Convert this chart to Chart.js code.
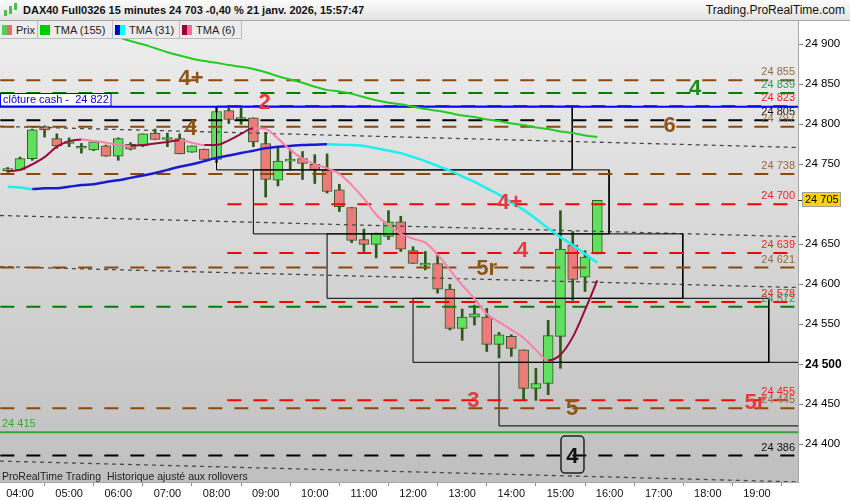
<!DOCTYPE html>
<html>
<head>
<meta charset="utf-8">
<script src="https://cdn.jsdelivr.net/npm/chart.js@4.4.1/dist/chart.umd.min.js"></script>
<style>
  html, body { margin: 0; padding: 0; background: #fff; }
  #wrap { position: relative; width: 850px; height: 500px; overflow: hidden; font-family: "Liberation Sans", Arial, sans-serif; }
  #chart { position: absolute; left: 0; top: 0; }
  #head { position: absolute; left: 0; top: 0; width: 850px; height: 21px; box-sizing: border-box; background: linear-gradient(#fbfbfb, #e3e3e3); border-bottom: 1px solid #a9a9a9; }
  #icon { position: absolute; left: 4px; top: 3px; width: 14px; height: 14px; }
  #icon i { position: absolute; width: 3px; }
  #title { position: absolute; left: 23px; top: 0; line-height: 21px; font-size: 11px; font-weight: bold; color: #111; white-space: nowrap; }
  #site { position: absolute; right: 5px; top: 0; line-height: 21px; font-size: 12px; color: #111; }
  #legend { position: absolute; left: 0; top: 21px; display: flex; }
  .cell { box-sizing: border-box; height: 18px; border-right: 1px solid #bcbcbc; border-bottom: 1px solid #bcbcbc; background: #ececec; display: flex; align-items: center; padding-left: 2px; font-size: 11px; color: #222; white-space: nowrap; }
  .ic { display: inline-flex; width: 10px; height: 10px; margin-right: 4px; }
  .ic i { flex: 1; }
</style>
</head>
<body>
<div id="wrap">
  <canvas id="chart" width="850" height="500"></canvas>
  <div id="head">
    <div id="icon">
      <i style="left:0;top:7px;height:6px;background:#4cbf4c"></i>
      <i style="left:5px;top:3px;height:8px;background:#4cbf4c"></i>
      <i style="left:10px;top:0;height:7px;background:#4cbf4c"></i>
    </div>
    <div id="title">DAX40 Full0326 15 minutes 24 703 -0,40 % 21 janv. 2026, 15:57:47</div>
    <div id="site">Trading.ProRealTime.com</div>
  </div>
  <div id="legend">
    <div class="cell" style="width:38px"><span class="ic"><i style="background:#52d052"></i><i style="background:#e46c6c"></i></span>Prix</div>
    <div class="cell" style="width:75px"><span class="ic"><i style="background:#00cc00"></i></span>TMA (155)</div>
    <div class="cell" style="width:67px"><span class="ic"><i style="background:#0000cc"></i><i style="background:#00ffff"></i></span>TMA (31)</div>
    <div class="cell" style="width:62px"><span class="ic"><i style="background:#990033"></i><i style="background:#ff6699"></i></span>TMA (6)</div>
  </div>
</div>
<script>
// --- data ---
const CANDLE_TIMES = ["03:45","04:00","04:15","04:30","04:45","05:00","05:15","05:30","05:45","06:00","06:15","06:30","06:45",
  "07:00","07:15","07:30","07:45","08:00","08:15","08:30","08:45","09:00","09:15","09:30","09:45","10:00","10:15","10:30",
  "10:45","11:00","11:15","11:30","11:45","12:00","12:15","12:30","12:45","13:00","13:15","13:30","13:45","14:00","14:15",
  "14:30","14:45","15:00","15:15","15:30","15:45"];
const OPEN  = [24742,24743,24757,24797,24782,24776,24770,24768,24773,24760,24775,24773,24789,24781,24782,24765,24769,24756,24817,24806,24808,24776,24730,24754,24757,24750,24743,24718,24696,24656,24650,24660,24678,24642,24624,24626,24594,24545,24559,24559,24525,24535,24518,24470,24476,24535,24649,24609,24638];
const HIGH  = [24746,24759,24794,24798,24788,24783,24776,24778,24774,24783,24777,24788,24794,24789,24788,24773,24769,24822,24820,24820,24808,24790,24770,24769,24766,24762,24763,24725,24696,24669,24664,24692,24685,24647,24641,24637,24600,24569,24574,24570,24540,24537,24518,24495,24555,24692,24666,24642,24705];
const LOW   = [24740,24742,24755,24784,24770,24772,24764,24767,24760,24755,24768,24772,24781,24772,24763,24765,24756,24752,24801,24800,24772,24709,24723,24743,24731,24726,24714,24691,24652,24641,24633,24656,24641,24626,24618,24589,24543,24530,24549,24516,24508,24510,24455,24455,24462,24495,24580,24591,24638];
const CLOSE = [24744,24757,24793,24793,24773,24777,24771,24778,24760,24782,24769,24788,24781,24783,24763,24773,24756,24816,24806,24807,24778,24731,24754,24755,24751,24743,24716,24697,24655,24650,24664,24678,24644,24626,24625,24594,24545,24559,24563,24525,24537,24520,24470,24476,24536,24644,24606,24634,24705];

const TMA155 = [null,null,null,null,null,null,null,null,24914,24909,24904,24900,24895,24890,24886,24882,24879,24877,24874,24872,24869,24865,24860,24856,24852,24847,24843,24841,24838,24834,24830,24827,24825,24822,24819,24817,24814,24811,24809,24806,24804,24801,24799,24796,24794,24791,24789,24786,24784];
const TMA31  = [24722,24721,24719,24720,24720,24722,24724,24725,24728,24730,24733,24736,24739,24743,24747,24750,24754,24758,24761,24764,24767,24770,24772,24773,24774,24774.5,24775,24774.5,24774,24773,24770,24767,24764,24759,24754,24748,24742,24735,24728,24720,24712,24702,24693,24682,24670,24659,24649,24638,24627];
const TMA6   = [24741,24743,24750,24759,24772,24779,24781,24779,24777,24774,24773,24774,24776,24778,24780,24777,24774,24774,24780,24788,24795,24794,24782,24768,24757,24750,24745,24738,24724,24707,24687,24674,24663,24657,24652,24637,24618,24599,24582,24563,24553,24543,24533,24518,24505,24512,24534,24568,24605];

// horizontal levels (dashed), where each starts in hours, and their colour family
const LEVELS      = [24855, 24839, 24823, 24805, 24797, 24738, 24700, 24639, 24621, 24578, 24572, 24455, 24445, 24386];
const LEVEL_KIND  = ["brown","green","red","black","brown","brown","red","red","brown","red","green","red","brown","black"];
const LEVEL_START = [3.6, 3.6, 8.22, 3.6, 3.6, 3.6, 8.22, 8.22, 3.6, 8.22, 3.6, 8.22, 3.6, 3.6];
const LEVEL_END = 19.78;
const CASH_CLOSE = 24822;
const SUPPORT = 24415;

// sloping channel lines (price at left edge / right edge)
const TREND_LEFT  = [24797.4, 24686, 24622, 24379];
const TREND_RIGHT = [24771, 24659.5, 24596, 24353];

// staircase boxes
const BOX_START  = [8.0, 8.75, 10.25, 12.0, 13.75];
const BOX_END    = [15.24, 15.99, 17.49, 19.24, 21.0];
const BOX_TOP    = [24822.5, 24743, 24663, 24582.5, 24502.5];
const BOX_BOTTOM = [24743, 24663, 24582.5, 24502.5, 24423];

// wave marks written on the chart
const MARK_TEXT  = ["4+", "4", "2", "4", "6", "4+", "4", "5r", "3", "5", "5r", "4"];
const MARK_TIME  = [7.48, 7.48, 8.98, 17.74, 17.22, 13.97, 14.22, 13.5, 13.23, 15.24, 18.96, 15.245];
const MARK_PRICE = [24858, 24796, 24828, 24845, 24799, 24703, 24643, 24621, 24455, 24446, 24453, 24386];
const MARK_KIND  = ["brown","brown","red","green","brown","red","red","brown","red","brown","red","black"];

const LAST_PRICE = 24705;
const X_TICKS = [4, 5, 6, 7, 8, 9, 10, 11, 12, 13, 14, 15, 16, 17, 18, 19];
const X_TICK_LABELS = ["04:00","05:00","06:00","07:00","08:00","09:00","10:00","11:00","12:00","13:00","14:00","15:00","16:00","17:00","18:00","19:00"];
const Y_TICKS = [24400, 24450, 24500, 24550, 24600, 24650, 24750, 24800, 24850, 24900];
const Y_TICK_LABELS = ["24 400","24 450","24 500","24 550","24 600","24 650","24 750","24 800","24 850","24 900"];

// --- styles ---
const FONT = '"Liberation Sans", Arial, sans-serif';
const X_MIN = 3.593, X_MAX = 19.835;
const Y_MIN = 24352.9, Y_MAX = 24929.1;
const LINE_COLOR = { brown: "#8b4a0c", green: "#008000", red: "#ff0000", black: "#000000" };
const LABEL_COLOR = { brown: "#9a6a3c", green: "#2a9a5c", red: "#ff2020", black: "#111111" };
const MARK_COLOR = { brown: "#8d5518", green: "#1e8a1e", red: "#e8383e", black: "#111111" };

const hours = (t) => { const [h, m] = t.split(":").map(Number); return h + m / 60; };
const fmt = (v) => { const s = String(Math.round(v)); return s.slice(0, -3) + " " + s.slice(-3); };
const cx = CANDLE_TIMES.map(hours);
const series = (arr) => arr.map((v, i) => ({ x: cx[i], y: v }));

const bgPlugin = {
  id: "bgPlugin",
  beforeDraw(c) {
    const { ctx, chartArea: a } = c;
    ctx.save();
    ctx.fillStyle = "#fff";
    ctx.fillRect(0, 0, c.width, c.height);
    const g = ctx.createLinearGradient(0, a.top, 0, a.bottom);
    g.addColorStop(0, "#eeeeee");
    g.addColorStop(1, "#bfbfbf");
    ctx.fillStyle = g;
    ctx.fillRect(a.left, a.top, a.right - a.left, a.bottom - a.top);
    ctx.restore();
  },
};

const notesPlugin = {
  id: "notesPlugin",
  afterDatasetsDraw(c) {
    const { ctx, chartArea: a, scales } = c;
    const x = scales.x, y = scales.y;
    ctx.save();
    ctx.textBaseline = "middle";
    // level prices at the right edge
    ctx.font = "11px " + FONT;
    ctx.textAlign = "right";
    LEVELS.forEach((v, i) => {
      ctx.fillStyle = LABEL_COLOR[LEVEL_KIND[i]];
      ctx.fillText(fmt(v), a.right - 3, y.getPixelForValue(v) - 8);
    });
    // cash close tag
    const yc = Math.round(y.getPixelForValue(CASH_CLOSE));
    ctx.fillStyle = "#fff";
    ctx.fillRect(0.5, yc - 13.5, 110.5, 12.5);
    ctx.strokeStyle = "#0000ff";
    ctx.lineWidth = 1;
    ctx.strokeRect(0.5, yc - 13.5, 110.5, 12.5);
    ctx.textAlign = "left";
    ctx.fillStyle = "#0000ee";
    ctx.fillText("clôture cash -  " + fmt(CASH_CLOSE), 3, yc - 7);
    // support tag
    ctx.fillStyle = "#33aa33";
    ctx.fillText(fmt(SUPPORT), 2, y.getPixelForValue(SUPPORT) - 8);
    // footer text
    ctx.fillStyle = "#222";
    ctx.font = "10.5px " + FONT;
    const first = "ProRealTime Trading";
    ctx.fillText(first, 2, a.bottom - 5);
    ctx.fillText("Historique ajusté aux rollovers", 2 + ctx.measureText(first).width + 6, a.bottom - 5);
    // wave marks
    ctx.font = "bold 22px " + FONT;
    ctx.textAlign = "center";
    MARK_TEXT.forEach((t, i) => {
      const px = x.getPixelForValue(MARK_TIME[i]);
      const py = y.getPixelForValue(MARK_PRICE[i]);
      if (MARK_KIND[i] === "black") {
        ctx.strokeStyle = "#222";
        ctx.lineWidth = 1.5;
        ctx.beginPath();
        ctx.roundRect(px - 11.5, py - 19.5, 23, 37, 4);
        ctx.stroke();
      }
      ctx.fillStyle = MARK_COLOR[MARK_KIND[i]];
      ctx.fillText(t, px, py + 1);
    });
    ctx.restore();
  },
  afterDraw(c) {
    const { ctx, chartArea: a, scales } = c;
    const py = Math.round(scales.y.getPixelForValue(LAST_PRICE));
    ctx.save();
    ctx.fillStyle = "#ffd200";
    ctx.fillRect(802.5, py - 7.5, 38, 14);
    ctx.strokeStyle = "#a0a0a0";
    ctx.lineWidth = 1;
    ctx.strokeRect(802.5, py - 7.5, 38, 14);
    ctx.strokeStyle = "#333";
    ctx.beginPath();
    ctx.moveTo(a.right, py + 0.5);
    ctx.lineTo(802, py + 0.5);
    ctx.stroke();
    ctx.fillStyle = "#000";
    ctx.font = "11px " + FONT;
    ctx.textBaseline = "middle";
    ctx.textAlign = "left";
    ctx.fillText(fmt(LAST_PRICE), 805, py);
    ctx.restore();
  },
};

const datasets = [];
datasets.push({
  type: "bar", order: 20, grouped: false, barThickness: 2,
  data: CANDLE_TIMES.map((t, i) => ({ x: cx[i], y: [LOW[i], HIGH[i]] })),
  backgroundColor: "#2d5a1b", borderWidth: 0,
});
datasets.push({
  type: "bar", order: 19, grouped: false, barThickness: 10, minBarLength: 2,
  data: CANDLE_TIMES.map((t, i) => ({ x: cx[i], y: [OPEN[i], CLOSE[i]] })),
  backgroundColor: (ctx) => (CLOSE[ctx.dataIndex] >= OPEN[ctx.dataIndex] ? "#5fe05f" : "#ee7b7b"),
  borderColor: "#2f5a1f", borderWidth: 1, borderSkipped: false,
});
TREND_LEFT.forEach((v, i) => {
  datasets.push({
    type: "line", order: 15, data: [{ x: X_MIN, y: v }, { x: X_MAX, y: TREND_RIGHT[i] }],
    borderColor: "#4a4a4a", borderWidth: 1.3, borderDash: [4, 4], pointRadius: 0,
  });
});
const boxPts = [];
BOX_START.forEach((s, i) => {
  const e = BOX_END[i], t = BOX_TOP[i], b = BOX_BOTTOM[i];
  boxPts.push({ x: s, y: t }, { x: e, y: t }, { x: e, y: b }, { x: s, y: b }, { x: s, y: t }, { x: s, y: null });
});
datasets.push({ type: "line", order: 14, data: boxPts, borderColor: "#000", borderWidth: 1, pointRadius: 0, spanGaps: false });
LEVELS.forEach((v, i) => {
  datasets.push({
    type: "line", order: 12, data: [{ x: LEVEL_START[i], y: v }, { x: LEVEL_END, y: v }],
    borderColor: LINE_COLOR[LEVEL_KIND[i]], borderWidth: 2, borderDash: [14, 12], pointRadius: 0,
  });
});
datasets.push({ type: "line", order: 11, data: [{ x: X_MIN, y: CASH_CLOSE }, { x: X_MAX, y: CASH_CLOSE }], borderColor: "#0000ff", borderWidth: 2, pointRadius: 0 });
datasets.push({ type: "line", order: 11, data: [{ x: X_MIN, y: SUPPORT }, { x: X_MAX, y: SUPPORT }], borderColor: "#33aa33", borderWidth: 2, pointRadius: 0 });
datasets.push({ type: "line", order: 5, data: series(TMA155), borderColor: "#22cc22", borderWidth: 2, pointRadius: 0, cubicInterpolationMode: "monotone" });
datasets.push({
  type: "line", order: 4, data: series(TMA31), borderWidth: 2.5, pointRadius: 0, cubicInterpolationMode: "monotone",
  borderColor: "#1a1ad0",
  segment: { borderColor: (s) => (s.p1.parsed.y >= s.p0.parsed.y ? "#1a1ad0" : "#1ef0f0") },
});
datasets.push({
  type: "line", order: 3, data: series(TMA6), borderWidth: 2, pointRadius: 0, cubicInterpolationMode: "monotone",
  borderColor: "#9b0a3a",
  segment: { borderColor: (s) => (s.p1.parsed.y >= s.p0.parsed.y ? "#9b0a3a" : "#ff7fa8") },
});

new Chart(document.getElementById("chart"), {
  type: "bar",
  data: { datasets },
  options: {
    responsive: false,
    animation: false,
    events: [],
    devicePixelRatio: 1,
    layout: { padding: { top: 21, left: 0, right: 0, bottom: 0 } },
    plugins: { legend: { display: false }, tooltip: { enabled: false } },
    scales: {
      x: {
        type: "linear", min: X_MIN, max: X_MAX, offset: false,
        afterBuildTicks: (s) => { s.ticks = X_TICKS.map((v) => ({ value: v })); },
        afterFit: (s) => { s.height = 18; },
        grid: { drawOnChartArea: false, tickLength: 4, color: "#8a8a8a" },
        border: { color: "#a8a8a8" },
        ticks: { autoSkip: false, maxRotation: 0, padding: 1, color: "#111", font: { family: FONT, size: 11 }, callback: (v, i) => X_TICK_LABELS[i] },
      },
      y: {
        type: "linear", position: "right", min: Y_MIN, max: Y_MAX,
        afterBuildTicks: (s) => { s.ticks = Y_TICKS.map((v) => ({ value: v })); },
        afterFit: (s) => { s.width = 52; },
        grid: { drawOnChartArea: false, tickLength: 5, color: "#8a8a8a" },
        border: { color: "#a8a8a8" },
        ticks: {
          padding: 2, color: "#000", autoSkip: false,
          font: (ctx) => ({ family: FONT, size: ctx.tick && ctx.tick.value === 24500 ? 12 : 11.5, weight: ctx.tick && ctx.tick.value === 24500 ? "bold" : "normal" }),
          callback: (v, i) => Y_TICK_LABELS[i],
        },
      },
    },
  },
  plugins: [bgPlugin, notesPlugin],
});
</script>
</body>
</html>
